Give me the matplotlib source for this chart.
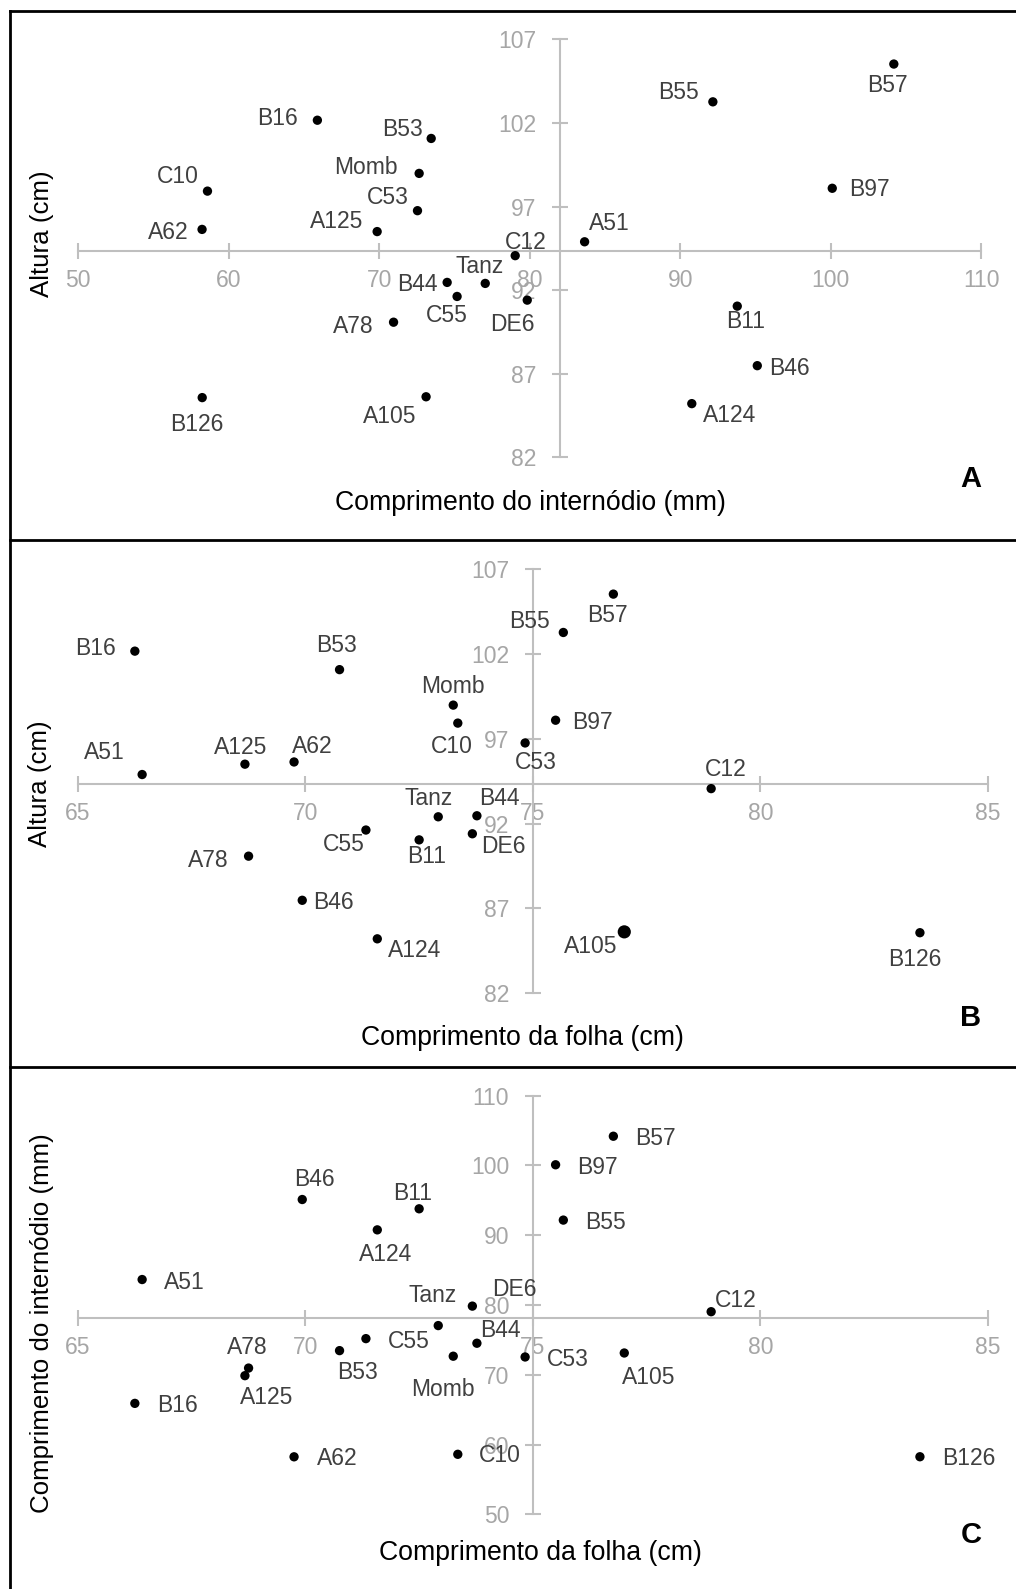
import matplotlib
matplotlib.use("Agg")
import matplotlib.pyplot as plt
from matplotlib.lines import Line2D

plt.rcParams["font.family"] = ["Liberation Sans", "DejaVu Sans"]

# genotypes and their traits
names = ["B16", "B53", "Momb", "C10", "C53", "A125", "A62", "B44", "Tanz", "C55", "A78",
         "B126", "A105", "C12", "DE6", "A51", "B55", "B57", "B97", "B11", "B46", "A124"]
altura = [102.16, 101.07, 98.98, 97.92, 96.75, 95.50, 95.63, 92.46, 92.40, 91.62, 90.08,
          85.57, 85.62, 94.06, 91.40, 94.89, 103.26, 105.52, 98.09, 91.04, 87.48, 85.21]
internodio = [65.9, 73.46, 72.66, 58.6, 72.55, 69.87, 58.24, 74.52, 77.05, 75.18, 70.96,
              58.25, 73.12, 79.04, 79.84, 83.65, 92.17, 104.19, 100.1, 93.79, 95.12, 90.77]
folha = [66.25, 70.75, 73.25, 73.35, 74.83, 68.67, 69.75, 73.77, 72.92, 71.33, 68.75,
         83.51, 77.01, 78.92, 73.67, 66.41, 75.67, 76.77, 75.5, 72.5, 69.93, 71.58]

W, H = 1016, 1589
fig = plt.figure(figsize=(W / 100, H / 100), dpi=100)

AX_GRAY = "#bfbfbf"
TICK_GRAY = "#a6a6a6"
LBL = "#404040"

# label offsets (pixels, center of text relative to point)
off_a = {"B16": (-40, 3), "B53": (-29, 10), "Momb": (-53, 7), "C10": (-30, 16), "C53": (-30, 15),
         "A125": (-41, 12), "A62": (-34, -2), "B44": (-30, -1), "Tanz": (-6, 18), "C55": (-10, -18),
         "A78": (-40, -3), "B126": (-5, -25), "A105": (-36, -18), "C12": (11, 15), "DE6": (-15, -23),
         "A51": (25, 20), "B55": (-34, 11), "B57": (-6, -20), "B97": (37, 0), "B11": (8, -14),
         "B46": (32, -1), "A124": (38, -10)}
off_b = {"B16": (-39, 4), "B53": (-3, 26), "Momb": (0, 20), "C10": (-6, -22), "A51": (-38, 24),
         "A125": (-4, 18), "A62": (18, 17), "Tanz": (-10, 20), "B44": (22, 19), "C55": (-22, -13),
         "B11": (7, -15), "DE6": (31, -11), "A78": (-40, -3), "B46": (31, -1), "A124": (37, -10),
         "B57": (-6, -20), "B55": (-34, 12), "B97": (37, -1), "C53": (11, -18), "C12": (15, 21),
         "A105": (-34, -13), "B126": (-5, -25)}
off_c = {"B46": (12, 22), "B11": (-7, 17), "A124": (8, -23), "A51": (42, -1), "Tanz": (-6, 32),
         "DE6": (42, 18), "B44": (23, 14), "C55": (43, -1), "B53": (18, -20), "Momb": (-10, -32),
         "A78": (-1, 22), "A125": (22, -20), "B16": (43, -1), "A62": (43, 0), "C10": (42, 0),
         "B57": (42, -1), "B97": (42, -1), "B55": (42, -1), "C12": (25, 13), "C53": (43, -1),
         "A105": (24, -23), "B126": (49, 0)}

panels = [
    dict(x=internodio, y=altura, xlim=(50, 110), ylim=(82, 107), xt=range(50, 111, 10),
         yt=range(82, 108, 5), cross=(82, 94.35), px=(78, 981.3), py=(457.3, 39.3),
         off=off_a, big=[], xlabel="Comprimento do internódio (mm)", ylabel="Altura (cm)",
         xl=(530, 503), yl=(42, 234), letter="A", let=(971, 479)),
    dict(x=folha, y=altura, xlim=(65, 85), ylim=(82, 107), xt=range(65, 86, 5),
         yt=range(82, 108, 5), cross=(75, 94.35), px=(78, 987.7), py=(993.3, 569),
         off=off_b, big=["A105"], xlabel="Comprimento da folha (cm)", ylabel="Altura (cm)",
         xl=(522, 1038), yl=(40, 784), letter="B", let=(971, 1018)),
    dict(x=folha, y=internodio, xlim=(65, 85), ylim=(50, 110), xt=range(65, 86, 5),
         yt=range(50, 111, 10), cross=(75, 78.1), px=(78, 987.7), py=(1514.3, 1095.7),
         off=off_c, big=[], xlabel="Comprimento da folha (cm)",
         ylabel="Comprimento do internódio (mm)", xl=(540, 1553), yl=(42, 1323),
         letter="C", let=(971, 1535)),
]

for p in panels:
    l, r = p["px"][0] / W, p["px"][1] / W
    b, t = 1 - p["py"][0] / H, 1 - p["py"][1] / H
    ax = fig.add_axes([l, b, r - l, t - b])
    ax.patch.set_visible(False)
    ax.set_xlim(*p["xlim"])
    ax.set_ylim(*p["ylim"])
    for s in ["top", "right"]:
        ax.spines[s].set_visible(False)
    ax.spines["left"].set_position(("data", p["cross"][0]))
    ax.spines["bottom"].set_position(("data", p["cross"][1]))
    for s in ["left", "bottom"]:
        ax.spines[s].set_color(AX_GRAY)
        ax.spines[s].set_linewidth(1.5)
    ax.set_xticks(list(p["xt"]))
    ax.set_yticks(list(p["yt"]))
    ax.tick_params(axis="both", direction="inout", length=12, width=1.5, color=AX_GRAY,
                   labelcolor=TICK_GRAY, labelsize=16.5)
    ax.tick_params(axis="x", pad=7)
    ax.tick_params(axis="y", pad=11)

    sizes = [90 if n in p["big"] else 45 for n in names]
    ax.scatter(p["x"], p["y"], s=sizes, color="black", zorder=3, clip_on=False,
               edgecolors="none")
    for n, xv, yv in zip(names, p["x"], p["y"]):
        dx, dy = p["off"][n]
        ax.annotate(n, (xv, yv), xytext=(dx, dy - 8), textcoords="offset pixels",
                    ha="center", va="baseline", fontsize=16.5, color=LBL,
                    annotation_clip=False, zorder=4)

    fig.text(p["xl"][0] / W, 1 - p["xl"][1] / H, p["xlabel"], ha="center", va="center",
             fontsize=19.2, color="black")
    fig.text(p["yl"][0] / W, 1 - p["yl"][1] / H, p["ylabel"], ha="center", va="center",
             rotation=90, fontsize=18.6, color="black")
    fig.text(p["let"][0] / W, 1 - p["let"][1] / H, p["letter"], ha="center", va="center",
             fontsize=21, fontweight="bold", color="black")

# panel frame lines
def hline(y):
    fig.add_artist(Line2D([10 / W, 1], [1 - y / H, 1 - y / H], color="black", lw=2,
                          transform=fig.transFigure))

for yy in [11, 540, 1067]:
    hline(yy)
fig.add_artist(Line2D([10 / W, 10 / W], [1 - 11 / H, 0], color="black", lw=2,
                      transform=fig.transFigure))

fig.savefig("out.png", dpi=100)
